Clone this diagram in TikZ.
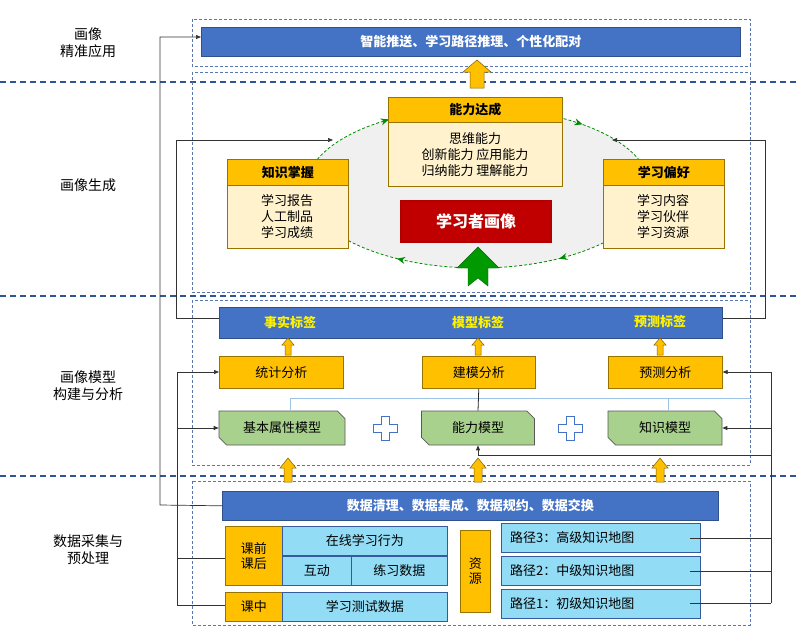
\documentclass[tikz,border=0pt]{standalone}
\usepackage{fontspec}
\setmainfont{Noto Sans CJK SC}
\usetikzlibrary{arrows.meta,shapes.misc,decorations.markings}
\definecolor{bbar}{HTML}{4472C4}
\definecolor{org}{HTML}{FFC000}
\definecolor{lblue}{HTML}{92DCF5}
\definecolor{grn}{HTML}{A9D18E}
\definecolor{lyel}{HTML}{FFF2CC}
\definecolor{dred}{HTML}{C00000}
\definecolor{sep}{HTML}{2F5597}
\definecolor{thinb}{HTML}{9DC3E6}
\begin{document}
\begin{tikzpicture}[x=1pt,y=-1pt,
  box/.style={draw=#1!60!black,line width=0.6pt,inner sep=0pt,anchor=north west},
  bar/.style={fill=bbar,draw=bbar!70!black,line width=0.6pt,inner sep=0pt,anchor=north west,text=white,font=\bfseries\fontsize{13}{15}\selectfont},
  ob/.style={fill=org,draw=org!60!black,line width=0.6pt,inner sep=0pt,anchor=north west,font=\fontsize{13}{15}\selectfont},
  lb/.style={fill=lblue,draw=bbar!80!black,line width=0.6pt,inner sep=0pt,anchor=north west,font=\fontsize{13}{15}\selectfont},
  gm/.style={chamfered rectangle,chamfered rectangle corners={north east,south west},chamfered rectangle xsep=4pt,fill=grn,draw=gray!70!black,line width=0.6pt,minimum width=124pt,minimum height=34pt,inner sep=0pt,font=\fontsize{13}{15}\selectfont},
  sepl/.style={sep,line width=1.3pt,dash pattern=on 6pt off 4pt},
  dbox/.style={draw=sep!80,line width=0.8pt,dash pattern=on 3pt off 2pt},
  fb/.style={gray!40!black,line width=0.7pt},
  fa/.style={fb,-{Triangle[length=5pt,width=4pt]}},
  lab/.style={align=center,font=\fontsize{14}{17}\selectfont},
  uarr/.style={fill=org,draw=org!50!black,line width=0.5pt},
]
\useasboundingbox (0,0) rectangle (800,638);
% separators
\foreach \yy in {82,296,476} \draw[sepl] (0,\yy) -- (800,\yy);
% left labels
\node[lab] (L1) at (88,43) {画像\\精准应用};
\node[lab] (L2) at (88,185) {画像生成};
\node[lab] (L3) at (88,386) {画像模型\\构建与分析};
\node[lab] (L4) at (88,550) {数据采集与\\预处理};
% dashed boxes
\draw[dbox] (192,19) rectangle (750,66);
\draw[dbox] (192,72) rectangle (750,292);
\draw[dbox] (192,300) rectangle (750,465);
\draw[dbox] (192,481) rectangle (750,625);
% top bar
\node[bar,minimum width=539pt,minimum height=29pt] (app) at (201,27) {智能推送、学习路径推理、个性化配对};
\draw[uarr] (470,88) -- (470,72) -- (463,72) -- (477,60) -- (491,72) -- (484,72) -- (484,88) -- cycle;
% ellipse
\fill[gray!12] (478,188) ellipse [x radius=172pt, y radius=80pt];
\draw[green!55!black,line width=0.8pt,dash pattern=on 3pt off 2pt,postaction=decorate,
  decoration={markings,
   mark=at position 0.13 with {\arrow[line width=1pt]{Stealth[reversed,length=8pt,width=7pt]}},
   mark=at position 0.37 with {\arrow[line width=1pt]{Stealth[reversed,length=8pt,width=7pt]}},
   mark=at position 0.66 with {\arrow[line width=1pt]{Stealth[reversed,length=8pt,width=7pt]}},
   mark=at position 0.86 with {\arrow[line width=1pt]{Stealth[reversed,length=8pt,width=7pt]}}}]
  (478,188) ellipse [x radius=172pt, y radius=80pt];
% ability box
\node[box=org,fill=lyel,minimum width=174pt,minimum height=89pt] (abil) at (388,97) {};
\node[box=org,fill=org,minimum width=174pt,minimum height=25pt,font=\bfseries\fontsize{13}{15}\selectfont] (abilh) at (388,97) {能力达成};
\node[align=center,font=\fontsize{13}{16}\selectfont] (abilt) at (475,155) {思维能力\\创新能力 应用能力\\归纳能力 理解能力};
% knowledge box
\node[box=org,fill=lyel,minimum width=121pt,minimum height=89pt] (know) at (227,159) {};
\node[box=org,fill=org,minimum width=121pt,minimum height=26pt,font=\bfseries\fontsize{13}{15}\selectfont] (knowh) at (227,159) {知识掌握};
\node[align=center,font=\fontsize{13}{16}\selectfont] (knowt) at (287,217) {学习报告\\人工制品\\学习成绩};
% preference box
\node[box=org,fill=lyel,minimum width=121pt,minimum height=89pt] (pref) at (603,159) {};
\node[box=org,fill=org,minimum width=121pt,minimum height=26pt,font=\bfseries\fontsize{13}{15}\selectfont] (prefh) at (603,159) {学习偏好};
\node[align=center,font=\fontsize{13}{16}\selectfont] (preft) at (663,217) {学习内容\\学习伙伴\\学习资源};
% red box
\node[anchor=north west,fill=dred,draw=red!70!black,line width=2pt,minimum width=150pt,minimum height=41pt,inner sep=0pt,text=white,font=\bfseries\fontsize{16}{18}\selectfont] (port) at (400,200) {学习者画像};
\draw[fill=green!60!black,draw=green!40!black] (468,286) -- (468,268) -- (457,268) -- (478,247) -- (499,268) -- (488,268) -- (488,286) -- (478,278) -- cycle;
% layer 3
\node[bar,minimum width=503pt,minimum height=31pt] (tags) at (219,307) {};
\node[text=yellow,font=\bfseries\fontsize{13}{15}\selectfont] (t1) at (290,322) {事实标签};
\node[text=yellow,font=\bfseries\fontsize{13}{15}\selectfont] (t2) at (478,322) {模型标签};
\node[text=yellow,font=\bfseries\fontsize{13}{15}\selectfont] (t3) at (660,322) {预测标签};
\foreach \xx in {288,478,660}{
 \draw[uarr] (\xx-3,355) -- (\xx-3,345) -- (\xx-6,345) -- (\xx,338) -- (\xx+6,345) -- (\xx+3,345) -- (\xx+3,355) -- cycle;
 \draw[uarr] (\xx-4,482) -- (\xx-4,468) -- (\xx-8,468) -- (\xx,458) -- (\xx+8,468) -- (\xx+4,468) -- (\xx+4,482) -- cycle;}
\node[ob,minimum width=124pt,minimum height=32pt] (a1) at (219,356) {统计分析};
\node[ob,minimum width=113pt,minimum height=32pt] (a2) at (422,356) {建模分析};
\node[ob,minimum width=114pt,minimum height=32pt] (a3) at (608,356) {预测分析};
\draw[thinb,line width=0.8pt] (290,410) -- (290,398) -- (752,398);
\draw[thinb,line width=0.8pt] (668,398) -- (668,410);
\node[gm,minimum width=126pt] (m1) at (282,428) {基本属性模型};
\node[gm,minimum width=113pt] (m2) at (478,428) {能力模型};
\node[gm,minimum width=114pt] (m3) at (665,428) {知识模型};
\draw[gray!30!black,line width=0.8pt] (a2.south) -- (m2.north);
\foreach \xx in {385,570}
 \draw[bbar,line width=1pt,fill=white] (\xx-4,416) -- (\xx+4,416) -- (\xx+4,424) -- (\xx+12,424) -- (\xx+12,432) -- (\xx+4,432) -- (\xx+4,440) -- (\xx-4,440) -- (\xx-4,432) -- (\xx-12,432) -- (\xx-12,424) -- (\xx-4,424) -- cycle;
% layer 4
\node[bar,minimum width=496pt,minimum height=29pt] (clean) at (222,491) {数据清理、数据集成、数据规约、数据交换};
\node[ob,minimum width=57pt,minimum height=59pt,align=center] (pre) at (225,526) {课前\\课后};
\node[lb,minimum width=165pt,minimum height=29pt] (onl) at (282,526) {在线学习行为};
\node[lb,minimum width=69pt,minimum height=29pt] (inter) at (282,556) {互动};
\node[lb,minimum width=96pt,minimum height=29pt] (prac) at (351,556) {练习数据};
\node[ob,minimum width=57pt,minimum height=29pt] (mid) at (225,592) {课中};
\node[lb,minimum width=165pt,minimum height=29pt] (test) at (282,592) {学习测试数据};
\node[ob,minimum width=30pt,minimum height=82pt,align=center] (res) at (460,530) {资\\源};
\node[lb,minimum width=199pt,minimum height=29pt,text width=190pt,align=left] (p3) at (501,523) {\ 路径3：高级知识地图};
\node[lb,minimum width=199pt,minimum height=29pt,text width=190pt,align=left] (p2) at (501,556) {\ 路径2：中级知识地图};
\node[lb,minimum width=199pt,minimum height=29pt,text width=190pt,align=left] (p1) at (501,589) {\ 路径1：初级知识地图};
% connectors
\coordinate (c1) at (160,505);
\coordinate (c2) at (160,37);
\draw[fa] (clean.west) -- (c1) -- (c2) -- (app.west |- c2);
\coordinate (lf1) at (176,318); \coordinate (lf2) at (176,140); \coordinate (lf3) at (333,140);
\draw[fa] (tags.west |- lf1) -- (lf1) -- (lf2) -- (lf3);
\coordinate (rf1) at (765,318); \coordinate (rf2) at (765,140); \coordinate (rf3) at (612,140);
\draw[fa] (tags.east |- rf1) -- (rf1) -- (rf2) -- (rf3);
\coordinate (lb1) at (177,372); \coordinate (lb2) at (177,428); \coordinate (lb3) at (177,558); \coordinate (lb4) at (177,605);
\draw[fb] (lb1) -- (lb4);
\draw[fa] (lb1) -- (a1.west |- lb1);
\draw[fa] (lb2) -- (m1.west |- lb2);
\draw[fb] (lb3) -- (pre.west |- lb3);
\draw[fb] (lb4) -- (mid.west |- lb4);
\coordinate (rb1) at (771,372); \coordinate (rb2) at (771,428); \coordinate (rb3) at (771,455);
\coordinate (rb4) at (771,538); \coordinate (rb5) at (771,571); \coordinate (rb6) at (771,603);
\draw[fb] (rb1) -- (rb6);
\draw[fa] (rb1) -- (a3.east |- rb1);
\draw[fa] (rb2) -- (m3.east |- rb2);
\draw[fa] (rb3) -- (m2.south |- rb3) -- (m2.south);
\draw[fb] (690,538) -- (rb4);
\draw[fb] (690,571) -- (rb5);
\draw[fb] (690,603) -- (rb6);
\end{tikzpicture}
\end{document}
